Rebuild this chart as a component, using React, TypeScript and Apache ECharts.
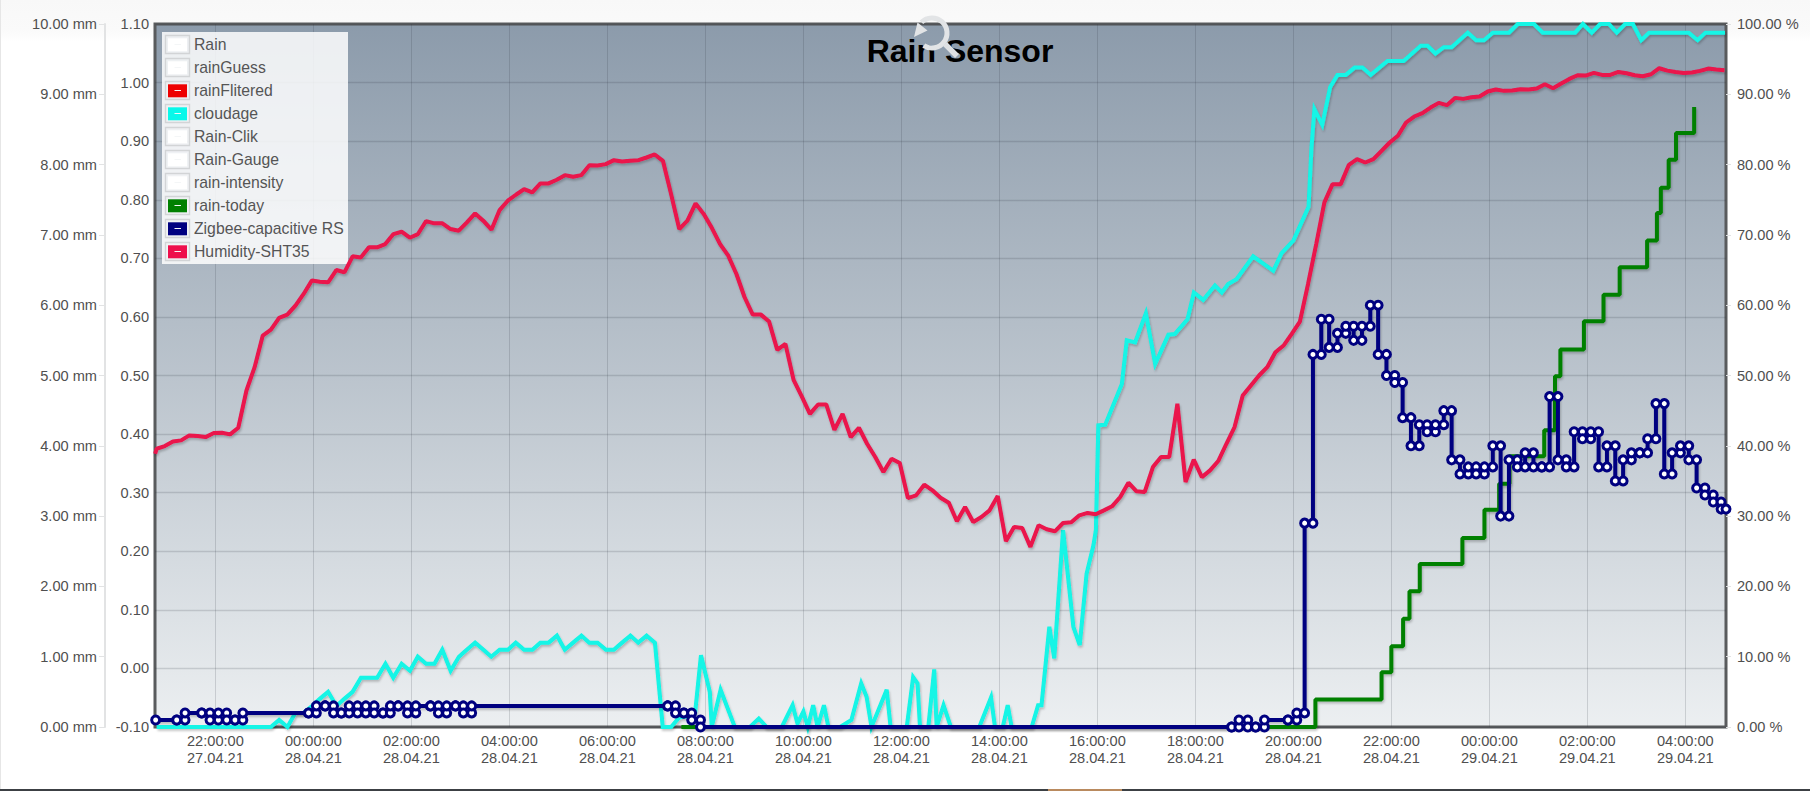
import React, { useEffect, useRef } from "react";
import * as echarts from "echarts";

const legendNames = ["Rain", "rainGuess", "rainFlitered", "cloudage", "Rain-Clik", "Rain-Gauge", "rain-intensity", "rain-today", "Zigbee-capacitive RS", "Humidity-SHT35"];
const legendColors = ["#ffffff", "#ffffff", "#ee0000", "#08f8ea", "#ffffff", "#ffffff", "#ffffff", "#008000", "#000080", "#ee0f4c"];

const hourTicks = [22, 24, 26, 28, 30, 32, 34, 36, 38, 40, 42, 44, 46, 48, 50, 52];

// Hours are counted from 00:00 on 27.04.21.
const humidityStartHour = 20.8;
const humidityFirstPoint = [20.77, 38.87];
const humidityValues = [
  39.58, 39.96, 40.62, 40.77, 41.48, 41.38, 41.24, 41.81, 41.86, 41.62, 42.57, 47.87, 51.18, 55.68, 56.53, 58.19, 58.66, 59.94, 61.6, 63.5, 63.35, 63.26, 65.0, 64.68, 66.95, 66.8, 68.23, 68.23, 68.7, 70.12, 70.45, 69.6, 70.12, 71.97, 71.64, 71.64, 70.83, 70.6, 71.78, 73.06, 72.02, 70.74, 73.53, 74.86, 75.71, 76.51, 76.04, 77.32, 77.32, 77.84, 78.5, 78.27, 78.5, 79.92, 79.88, 80.07, 80.63, 80.44, 80.54, 80.63, 81.01, 81.44, 80.54,
  75.8, 70.83, 72.02, 74.48, 72.96, 70.97, 68.7, 67.04, 64.44, 61.13, 58.66, 58.66, 57.67, 53.64, 54.5, 49.38, 47.02, 44.55, 45.88, 45.88, 42.28, 44.55, 41.24, 42.57, 40.29, 38.4, 36.27, 38.16, 37.55, 32.57, 32.95, 34.47, 33.67, 32.62, 31.91, 29.26, 31.3, 29.17, 29.88, 30.82, 32.86, 26.42, 28.46, 28.31, 25.62, 28.69, 28.12, 27.84, 29.02, 29.12, 30.11, 30.45, 30.26, 30.82, 31.39, 32.72, 34.75, 33.52, 33.43, 36.98, 38.4,
  38.4, 45.97, 34.85, 38.02, 35.55, 36.5, 37.83, 40.29, 42.66, 47.16, 48.58, 50.0, 51.18, 53.31, 54.26, 55.92, 57.67, 63.02, 68.7, 74.62, 77.22, 77.22, 79.97, 80.77, 80.3, 80.77, 81.96, 83.14, 84.1,
  85.99, 86.84, 87.31, 88.12, 88.78, 88.45, 89.49, 89.35, 89.59, 89.68, 90.39, 90.68, 90.49, 90.53, 90.72, 90.68, 90.82, 91.43, 90.86, 91.53, 92.19, 92.71, 92.66, 93.04, 92.76, 92.76, 93.18, 92.99, 92.71, 92.57, 92.85, 93.71, 93.37, 93.18, 93.04, 93.09, 93.33, 93.66, 93.52, 93.42,
];

const cloudHours = [
  20.8, 23.13, 23.3, 23.47, 23.63, 23.8, 23.97, 24.13, 24.3, 24.47, 24.63, 24.8, 24.97, 25.13, 25.3, 25.47, 25.63, 25.8, 25.97, 26.13, 26.3, 26.47, 26.63, 26.8, 26.97, 27.13, 27.3, 27.47, 27.63, 27.8, 27.97, 28.13, 28.3, 28.47, 28.63, 28.8, 28.97, 29.13, 29.3, 29.47, 29.63, 29.8, 29.97, 30.13, 30.3, 30.47, 30.63, 30.8, 30.97, 31.13,
  31.3, 31.47, 31.63, 31.79, 31.91, 32.09, 32.13, 32.31, 32.6, 32.91, 33.09, 33.25, 33.56, 33.78, 33.88, 34.0, 34.09, 34.2, 34.29, 34.42, 34.51, 34.75, 34.98, 35.18, 35.29, 35.39, 35.7, 35.78, 36.11, 36.24, 36.33, 36.38, 36.55, 36.67, 36.72, 36.86, 37.01, 37.59, 37.83, 37.91, 38.07, 38.17, 38.25, 38.66, 38.79, 38.86, 39.02, 39.12, 39.3, 39.51, 39.64, 39.78, 39.92, 39.97,
  40.02, 40.16, 40.5, 40.6, 40.77, 40.99, 41.18, 41.3, 41.45, 41.58, 41.84, 41.97, 42.16, 42.4, 42.54, 42.67, 42.84, 43.18, 43.59, 43.76, 44.0, 44.31, 44.37, 44.43, 44.59, 44.75, 44.9, 45.07, 45.25, 45.41, 45.58, 45.92, 46.25, 46.6, 46.74, 46.9, 47.07, 47.23, 47.56, 47.73, 47.89, 48.07, 48.4, 48.58, 48.91, 49.09, 49.75, 49.91, 50.09, 50.26, 50.44, 50.6, 50.77, 50.93, 51.1, 51.26, 52.07, 52.25, 52.41, 52.81,
];
const cloudValues = [
  0, 0, 1, 0, 2, 2, 3, 4, 5, 3, 4, 5, 7, 7, 7, 9, 7, 9, 8, 10, 9, 9, 11, 8, 10, 11, 12, 11, 10, 11, 11, 12, 11, 11, 12, 12, 13, 11, 12, 13, 12, 12, 11, 11, 12, 13, 12, 13, 12, 0,
  0, 1.4, 1.5, 2, 10.2, 5, 0, 5.3, 0, 0, 1.2, 0, 0, 3.1, 0.5, 2.2, 0, 3.1, 0, 3.1, 0, 0, 1, 6.2, 4.3, 0, 5.3, 0, 0, 7.1, 6.2, 0, 0, 8.2, 0, 3.1, 0, 0, 4.2, 0, 0, 3.1, 0, 0, 3.1, 3.1, 14.25, 9.75, 28, 14.25, 11.65, 21.8, 25.85, 28,
  42.9, 43, 48.8, 55, 54.7, 58.85, 51.65, 53.5, 55.8, 55.9, 58, 61.8, 60.75, 62.8, 61.8, 63, 63.7, 66.95, 64.9, 67.4, 69.2, 74, 82.4, 87.9, 85.66, 91, 92.76, 92.76, 93.8, 93.8, 92.76, 94.75, 94.75, 96.9, 96.9, 95.8, 96.7, 96.7, 98.77, 97.7, 97.7, 98.77, 98.77, 100, 100, 98.77, 98.77, 100, 98.77, 100, 100, 98.77, 100, 100, 97.7, 98.77, 98.77, 97.7, 98.77, 98.77,
];

const rainTodayHours = [31.51, 44.45, 45.8, 46.0, 46.24, 46.37, 46.58, 47.45, 47.9, 48.2, 48.41, 49.12, 49.34, 49.45, 49.93, 50.33, 50.66, 51.22, 51.42, 51.5, 51.66, 51.81, 52.18];
const rainTodayValues = [0, 0.39, 0.78, 1.15, 1.54, 1.93, 2.32, 2.69, 3.09, 3.46, 3.85, 4.22, 4.99, 5.37, 5.77, 6.15, 6.54, 6.92, 7.31, 7.67, 8.07, 8.45, 8.82];

const zigbeeEndHour = 52.83;
const zigbeeHours = [
  20.78, 21.21, 21.38, 21.72, 21.89, 22.06, 22.23, 22.4, 22.56, 23.9, 24.06, 24.24, 24.41, 24.57, 24.73, 24.9, 25.07, 25.24, 25.42, 25.57, 25.73, 25.92, 26.09, 26.39, 26.55, 26.72, 26.9, 27.06, 27.23, 31.23, 31.39, 31.56, 31.72, 31.9, 42.74, 42.89, 43.07, 43.23, 43.41, 43.89, 44.07, 44.23,
  44.4, 44.57, 44.73, 44.9, 45.07, 45.23, 45.4, 45.57, 45.73, 45.9, 46.07, 46.23, 46.4, 46.57, 46.73, 46.9, 47.07, 47.23, 47.4, 47.57, 47.73, 47.9, 48.07, 48.23, 48.4, 48.57, 48.73, 48.9, 49.07, 49.23, 49.4, 49.57, 49.73, 49.9, 50.07, 50.23, 50.4, 50.57, 50.73, 50.9, 51.07, 51.23, 51.4, 51.57, 51.73, 51.9, 52.07, 52.23, 52.4, 52.57, 52.73,
];
const zigbeeValues = [
  1, 1, 2, 2, 1, 2, 1, 1, 2, 2, 3, 3, 2, 2, 3, 2, 3, 2, 2, 3, 3, 2, 3, 3, 2, 3, 3, 2, 3, 3, 2, 2, 1, 0, 0, 1, 0, 0, 1, 1, 2, 29,
  53, 58, 54, 56, 57, 55, 57, 60, 53, 50, 49, 44, 40, 43, 42, 43, 45, 38, 36, 37, 36, 37, 40, 30, 38, 37, 39, 37, 37, 47, 38, 37, 42, 41, 42, 37, 40, 35, 38, 39, 39, 41, 46, 36, 39, 40, 38, 34, 33, 32, 31,
];

const FONT = '"Liberation Sans", Arial, sans-serif';
const LABEL = "#4f4f4f";

function hourLabel(v: number): string {
  const h = Math.round(v);
  const hh = String(h % 24).padStart(2, "0");
  const day = 27 + Math.floor(h / 24);
  return `${hh}:00:00\n${day}.04.21`;
}

function emptySeries(name: string, color: string) {
  return { name, type: "line", data: [], yAxisIndex: 2, itemStyle: { color }, lineStyle: { color } };
}

function lineShadow() {
  return { shadowColor: "rgba(0,0,0,0.22)", shadowBlur: 2, shadowOffsetX: 1, shadowOffsetY: 2 };
}

function buildOption() {
  const zigbeePoints: number[][] = [];
  zigbeeHours.forEach((t, i) => {
    const next = i + 1 < zigbeeHours.length ? zigbeeHours[i + 1] : zigbeeEndHour;
    zigbeePoints.push([t, zigbeeValues[i]], [next, zigbeeValues[i]]);
  });

  const frames: any[] = [];
  legendNames.forEach((_, k) => {
    frames.push({
      type: "rect", z: 5, silent: true,
      shape: { x: 165.5, y: 35.5 + 23 * k, width: 24, height: 18 },
      style: { fill: "none", stroke: "#d2d4d6", lineWidth: 1.4 },
    });
    frames.push({
      type: "line", z: 5, silent: true,
      shape: { x1: 174.5, y1: 44.5 + 23 * k, x2: 181, y2: 44.5 + 23 * k },
      style: { stroke: "#f4f6f7", lineWidth: 1 },
    });
  });

  return {
    animation: false,
    backgroundColor: "transparent",
    title: {
      text: "Rain Sensor",
      left: 955,
      top: 30,
      textAlign: "center",
      textStyle: { fontFamily: FONT, fontSize: 32, fontWeight: "bold", color: "#000000" },
    },
    legend: {
      orient: "vertical",
      left: 168,
      top: 36.8,
      padding: 0,
      itemWidth: 19,
      itemHeight: 13,
      itemGap: 7,
      icon: "rect",
      selectedMode: false,
      textStyle: { fontFamily: FONT, fontSize: 15.75, color: "#555555", padding: [0, 0, 4, 2] },
      data: legendNames.map((name, i) => ({
        name,
        icon: "rect",
        itemStyle: { color: legendColors[i], borderWidth: 0 },
        lineStyle: { width: 0 },
      })),
    },
    grid: {
      show: true,
      left: 155,
      top: 24,
      right: 84,
      bottom: 64,
      borderColor: "#595b5d",
      borderWidth: 3,
      backgroundColor: {
        type: "linear", x: 0, y: 0, x2: 0, y2: 1,
        colorStops: [
          { offset: 0, color: "#8c9bab" },
          { offset: 0.5, color: "#bbc4cd" },
          { offset: 1, color: "#eceff1" },
        ],
      },
    },
    xAxis: {
      type: "value",
      min: 20.767,
      max: 52.83,
      axisLine: { show: false },
      axisTick: { show: false, customValues: hourTicks },
      axisLabel: {
        customValues: hourTicks,
        formatter: hourLabel,
        fontFamily: FONT,
        fontSize: 14.6,
        lineHeight: 17.5,
        color: LABEL,
        margin: 5,
      },
      splitLine: { show: true, lineStyle: { color: "rgba(40,50,60,0.17)", width: 1 } },
    },
    yAxis: [
      {
        type: "value", position: "left", offset: 50, min: 0, max: 10, interval: 1,
        axisLine: { show: true, lineStyle: { color: "#e2e3e4", width: 2 } },
        axisTick: { show: true, length: 6, lineStyle: { color: "#e2e3e4", width: 1 } },
        axisLabel: { formatter: (v: number) => `${v.toFixed(2)} mm`, fontFamily: FONT, fontSize: 14.6, color: LABEL, margin: 8, padding: [0, 0, 2, 0] },
        splitLine: { show: false },
      },
      {
        type: "value", position: "left", offset: 0, min: -0.1, max: 1.1, interval: 0.1,
        axisLine: { show: false },
        axisTick: { show: false },
        axisLabel: { formatter: (v: number) => v.toFixed(2), fontFamily: FONT, fontSize: 14.6, color: LABEL, margin: 6 },
        splitLine: { show: true, lineStyle: { color: "rgba(40,50,60,0.17)", width: 1.3 } },
      },
      {
        type: "value", position: "right", min: 0, max: 100, interval: 10,
        axisLine: { show: false },
        axisTick: { show: true, length: 5, lineStyle: { color: "#e2e3e4", width: 1 } },
        axisLabel: { formatter: (v: number) => `${v.toFixed(2)} %`, fontFamily: FONT, fontSize: 14.6, color: LABEL, margin: 11 },
        splitLine: { show: false },
      },
    ],
    series: [
      emptySeries("Rain", "#ffffff"),
      emptySeries("rainGuess", "#ffffff"),
      emptySeries("rainFlitered", "#ee0000"),
      {
        name: "cloudage", type: "line", yAxisIndex: 2, showSymbol: false, clip: false,
        data: cloudHours.map((t, i) => [t, cloudValues[i]]),
        itemStyle: { color: "#12f5e6" },
        lineStyle: { color: "#12f5e6", width: 4, join: "miter", ...lineShadow() },
      },
      emptySeries("Rain-Clik", "#ffffff"),
      emptySeries("Rain-Gauge", "#ffffff"),
      emptySeries("rain-intensity", "#ffffff"),
      {
        name: "rain-today", type: "line", yAxisIndex: 0, showSymbol: false, clip: false, step: "end",
        data: rainTodayHours.map((t, i) => [t, rainTodayValues[i]]),
        itemStyle: { color: "#008000" },
        lineStyle: { color: "#008000", width: 4, ...lineShadow() },
      },
      {
        name: "Humidity-SHT35", type: "line", yAxisIndex: 2, showSymbol: false, clip: false,
        data: [humidityFirstPoint, ...humidityValues.map((v, i) => [humidityStartHour + i / 6, v])],
        itemStyle: { color: "#ea134c" },
        lineStyle: { color: "#ea134c", width: 4, ...lineShadow() },
      },
      {
        name: "Zigbee-capacitive RS", type: "line", yAxisIndex: 2, clip: false,
        showSymbol: true, showAllSymbol: true, symbol: "circle", symbolSize: 8,
        data: zigbeePoints,
        itemStyle: { color: "#ffffff", borderColor: "#000080", borderWidth: 3 },
        lineStyle: { color: "#000080", width: 4, ...lineShadow() },
        z: 3,
      },
    ],
    graphic: [
      { type: "rect", z: 3, silent: true, shape: { x: 162, y: 32, width: 186, height: 232 }, style: { fill: "rgba(255,255,255,0.84)" } },
      ...frames,
      {
        type: "arc", z: 10, silent: true,
        shape: { cx: 932, cy: 33, r: 15, startAngle: -2.35, endAngle: 2.15, clockwise: true },
        style: { fill: "none", stroke: "#e2e4e6", lineWidth: 5 },
      },
      {
        type: "polygon", z: 10, silent: true,
        shape: { points: [[914, 37], [917.5, 22.5], [927.5, 30.5]] },
        style: { fill: "#e2e4e6" },
      },
      {
        type: "line", z: 10, silent: true,
        shape: { x1: 945, y1: 44, x2: 957, y2: 56 },
        style: { stroke: "#dfe1e3", lineWidth: 5.5 },
      },
    ],
  };
}

export default function App() {
  const ref = useRef<HTMLDivElement>(null);
  useEffect(() => {
    const chart = echarts.init(ref.current!, undefined, { renderer: "svg" });
    chart.setOption(buildOption() as any);
    return () => chart.dispose();
  }, []);
  return (
    <div style={{ position: "absolute", left: 0, top: 0, width: 1810, height: 791, overflow: "hidden", background: "#ffffff" }}>
      <div style={{ position: "absolute", left: 0, top: 0, width: 1810, height: 42, background: "linear-gradient(#f8f8f8, #fafafa 30px, #ffffff 42px)" }} />
      <div style={{ position: "absolute", left: 0, top: 0, width: 1, height: 791, background: "#e6e6e6" }} />
      <div ref={ref} style={{ position: "absolute", left: 0, top: 0, width: 1810, height: 791 }} />
      <div style={{ position: "absolute", left: 0, top: 789, width: 1810, height: 2, background: "#3c4044" }} />
      <div style={{ position: "absolute", left: 1048, top: 789, width: 74, height: 2, background: "#b98a5e" }} />
    </div>
  );
}
